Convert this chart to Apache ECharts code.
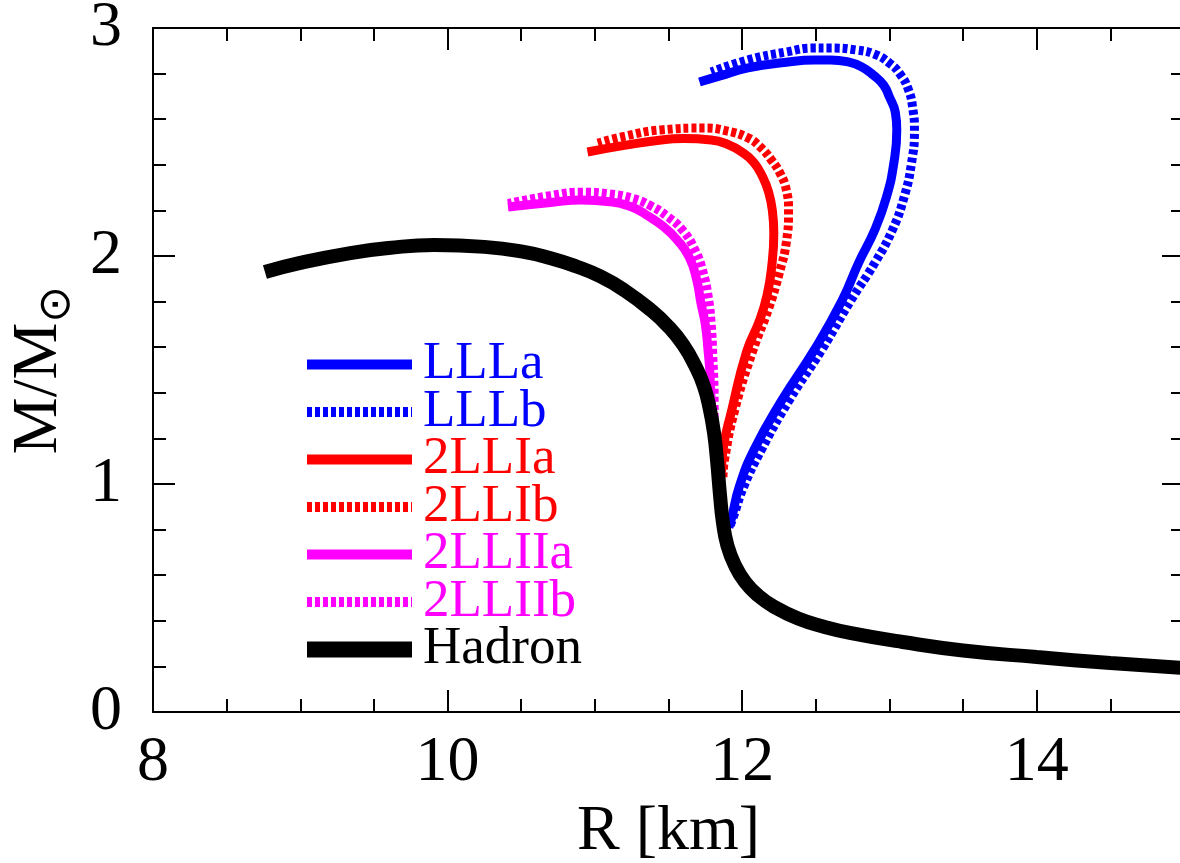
<!DOCTYPE html>
<html>
<head>
<meta charset="utf-8">
<script src="https://cdn.jsdelivr.net/npm/echarts@6/dist/echarts.min.js"></script>
<style>
  html, body { margin: 0; padding: 0; background: #fff; }
  #mrChart { width: 1180px; height: 863px; }
</style>
</head>
<body>
<div id="mrChart"></div>
<script>
  // 数据 (R [km], M/Msun)
  var LLLa = [[11.91,0.81],[11.93,0.855],[11.98,0.987],[12.08,1.149],[12.27,1.368],[12.49,1.588],[12.68,1.807],[12.79,1.969],[12.90,2.114],[12.98,2.259],[13.03,2.408],[13.05,2.553],[13.04,2.63],[13.0,2.697],[12.96,2.75],[12.89,2.794],[12.81,2.83],[12.72,2.851],[12.6,2.86],[12.49,2.86],[12.3,2.85],[12.04,2.825],[11.85,2.79],[11.71,2.763]];
  var LLLb = [[11.92,0.82],[11.94,0.855],[12.01,0.987],[12.13,1.149],[12.32,1.368],[12.54,1.588],[12.74,1.807],[12.90,1.969],[13.02,2.114],[13.10,2.259],[13.15,2.408],[13.17,2.553],[13.16,2.64],[13.13,2.728],[13.07,2.8],[13.0,2.846],[12.9,2.885],[12.77,2.904],[12.6,2.912],[12.49,2.912],[12.3,2.895],[12.04,2.86],[11.79,2.807]];
  var LLIa = [[11.86,1.05],[11.87,1.149],[11.93,1.325],[12.03,1.58],[12.12,1.72],[12.17,1.83],[12.2,1.95],[12.215,2.1],[12.205,2.2],[12.18,2.28],[12.14,2.346],[12.08,2.41],[12.0,2.455],[11.9,2.49],[11.79,2.509],[11.6,2.515],[11.45,2.509],[11.2,2.485],[10.95,2.456]];
  var LLIb = [[11.87,1.03],[11.88,1.105],[11.95,1.325],[12.07,1.58],[12.18,1.77],[12.25,1.92],[12.30,2.06],[12.315,2.2],[12.30,2.29],[12.26,2.36],[12.2,2.42],[12.12,2.48],[12.04,2.518],[11.9,2.548],[11.74,2.561],[11.45,2.553],[11.2,2.525],[11.02,2.495]];
  var LLIIa = [[11.80,1.30],[11.79,1.36],[11.78,1.5],[11.77,1.575],[11.75,1.7],[11.72,1.794],[11.69,1.9],[11.64,1.996],[11.56,2.07],[11.47,2.127],[11.35,2.18],[11.25,2.215],[11.1,2.238],[10.91,2.246],[10.7,2.235],[10.41,2.215]];
  var LLIIb = [[11.81,1.29],[11.81,1.355],[11.80,1.575],[11.79,1.7],[11.77,1.82],[11.73,1.94],[11.68,2.026],[11.60,2.11],[11.50,2.17],[11.38,2.22],[11.25,2.254],[11.1,2.272],[10.91,2.28],[10.7,2.265],[10.41,2.23]];
  var Hadron = [[8.76,1.93],[9.0,1.97],[9.34,2.013],[9.6,2.035],[9.91,2.048],[10.25,2.04],[10.5,2.02],[10.7,1.99],[10.87,1.955],[11.04,1.91],[11.2,1.85],[11.38,1.763],[11.5,1.69],[11.6,1.61],[11.68,1.52],[11.74,1.43],[11.78,1.33],[11.81,1.22],[11.83,1.1],[11.85,0.95],[11.87,0.83],[11.9,0.73],[11.95,0.645],[12.02,0.57],[12.11,0.51],[12.22,0.46],[12.38,0.41],[12.55,0.375],[12.74,0.346],[13.09,0.307],[13.5,0.27],[14.0,0.241],[14.5,0.215],[15.0,0.193]];

  var seriesNames = ['LLLa', 'LLLb', '2LLIa', '2LLIb', '2LLIIa', '2LLIIb', 'Hadron'];
  var seriesData = [LLLa, LLLb, LLIa, LLIb, LLIIa, LLIIb, Hadron];
  var seriesColors = ['#0000ff', '#0000ff', '#ff0000', '#ff0000', '#ff00ff', '#ff00ff', '#000000'];
  var seriesDotted = [false, true, false, true, false, true, false];

  var font = "'Liberation Serif', 'Times New Roman', serif";

  function xAxisOf(pos, step, len, labels) {
    return {
      type: 'value', position: pos, min: 8, max: 15, interval: step,
      axisLine: { show: step === 2, lineStyle: { color: '#000', width: 2 } },
      axisTick: { inside: true, length: len, lineStyle: { color: '#000', width: 2 } },
      axisLabel: { show: labels, showMaxLabel: false, margin: 19, color: '#000', fontFamily: font, fontSize: 64 },
      splitLine: { show: false },
      name: labels ? 'R [km]' : '',
      nameLocation: 'middle', nameGap: 84,
      nameTextStyle: { color: '#000', fontFamily: font, fontSize: 64 }
    };
  }

  function yAxisOf(pos, labels) {
    return {
      type: 'value', position: pos, min: 0, max: 3, interval: 1,
      axisLine: { show: true, lineStyle: { color: '#000', width: 2 } },
      axisTick: { inside: true, length: 22, lineStyle: { color: '#000', width: 2 } },
      minorTick: { show: true, splitNumber: 5, length: 13, lineStyle: { color: '#000', width: 2 } },
      axisLabel: { show: labels, margin: 31, color: '#000', fontFamily: font, fontSize: 64 },
      splitLine: { show: false },
      name: labels ? '{a|M/M}{b|\u2299}' : '',
      nameLocation: 'middle', nameRotate: 90, nameGap: 70,
      nameTextStyle: {
        color: '#000', fontFamily: font,
        rich: {
          a: { fontSize: 64, lineHeight: 80, fontFamily: font, color: '#000' },
          b: { fontSize: 44, lineHeight: 42, verticalAlign: 'bottom', fontFamily: 'DejaVu Sans', color: '#000' }
        }
      }
    };
  }

  var chart = echarts.init(document.getElementById('mrChart'));
  chart.setOption({
    backgroundColor: '#fff',
    animation: false,
    grid: { left: 153, top: 28, right: -4, bottom: 151, outerBoundsMode: 'none', containLabel: false },
    legend: {
      orient: 'vertical', left: 294, top: 333,
      itemWidth: 105, itemHeight: 16, itemGap: -5.5,
      itemStyle: { opacity: 0 },
      lineStyle: { width: 'inherit', type: 'inherit', cap: 'butt' },
      textStyle: { fontFamily: font, fontSize: 53, padding: [0, 0, 0, 6] },
      data: seriesNames.map(function (n, i) {
        return {
          name: n,
          textStyle: { color: seriesColors[i] },
          lineStyle: { width: n === 'Hadron' ? 16 : 10 }
        };
      })
    },
    xAxis: [
      xAxisOf('bottom', 2, 22, true),
      xAxisOf('bottom', 0.5, 13, false),
      xAxisOf('top', 2, 22, false),
      xAxisOf('top', 0.5, 13, false)
    ],
    yAxis: [yAxisOf('left', true), yAxisOf('right', false)],
    series: seriesNames.map(function (n, i) {
      return {
        name: n, type: 'line', xAxisIndex: 0, yAxisIndex: 0,
        data: seriesData[i],
        symbol: 'none', smooth: 0.5, clip: true,
        color: seriesColors[i],
        lineStyle: {
          color: seriesColors[i],
          width: n === 'Hadron' ? 14 : 9,
          type: seriesDotted[i] ? [5, 3] : 'solid',
          cap: 'butt'
        }
      };
    })
  });
</script>
</body>
</html>
